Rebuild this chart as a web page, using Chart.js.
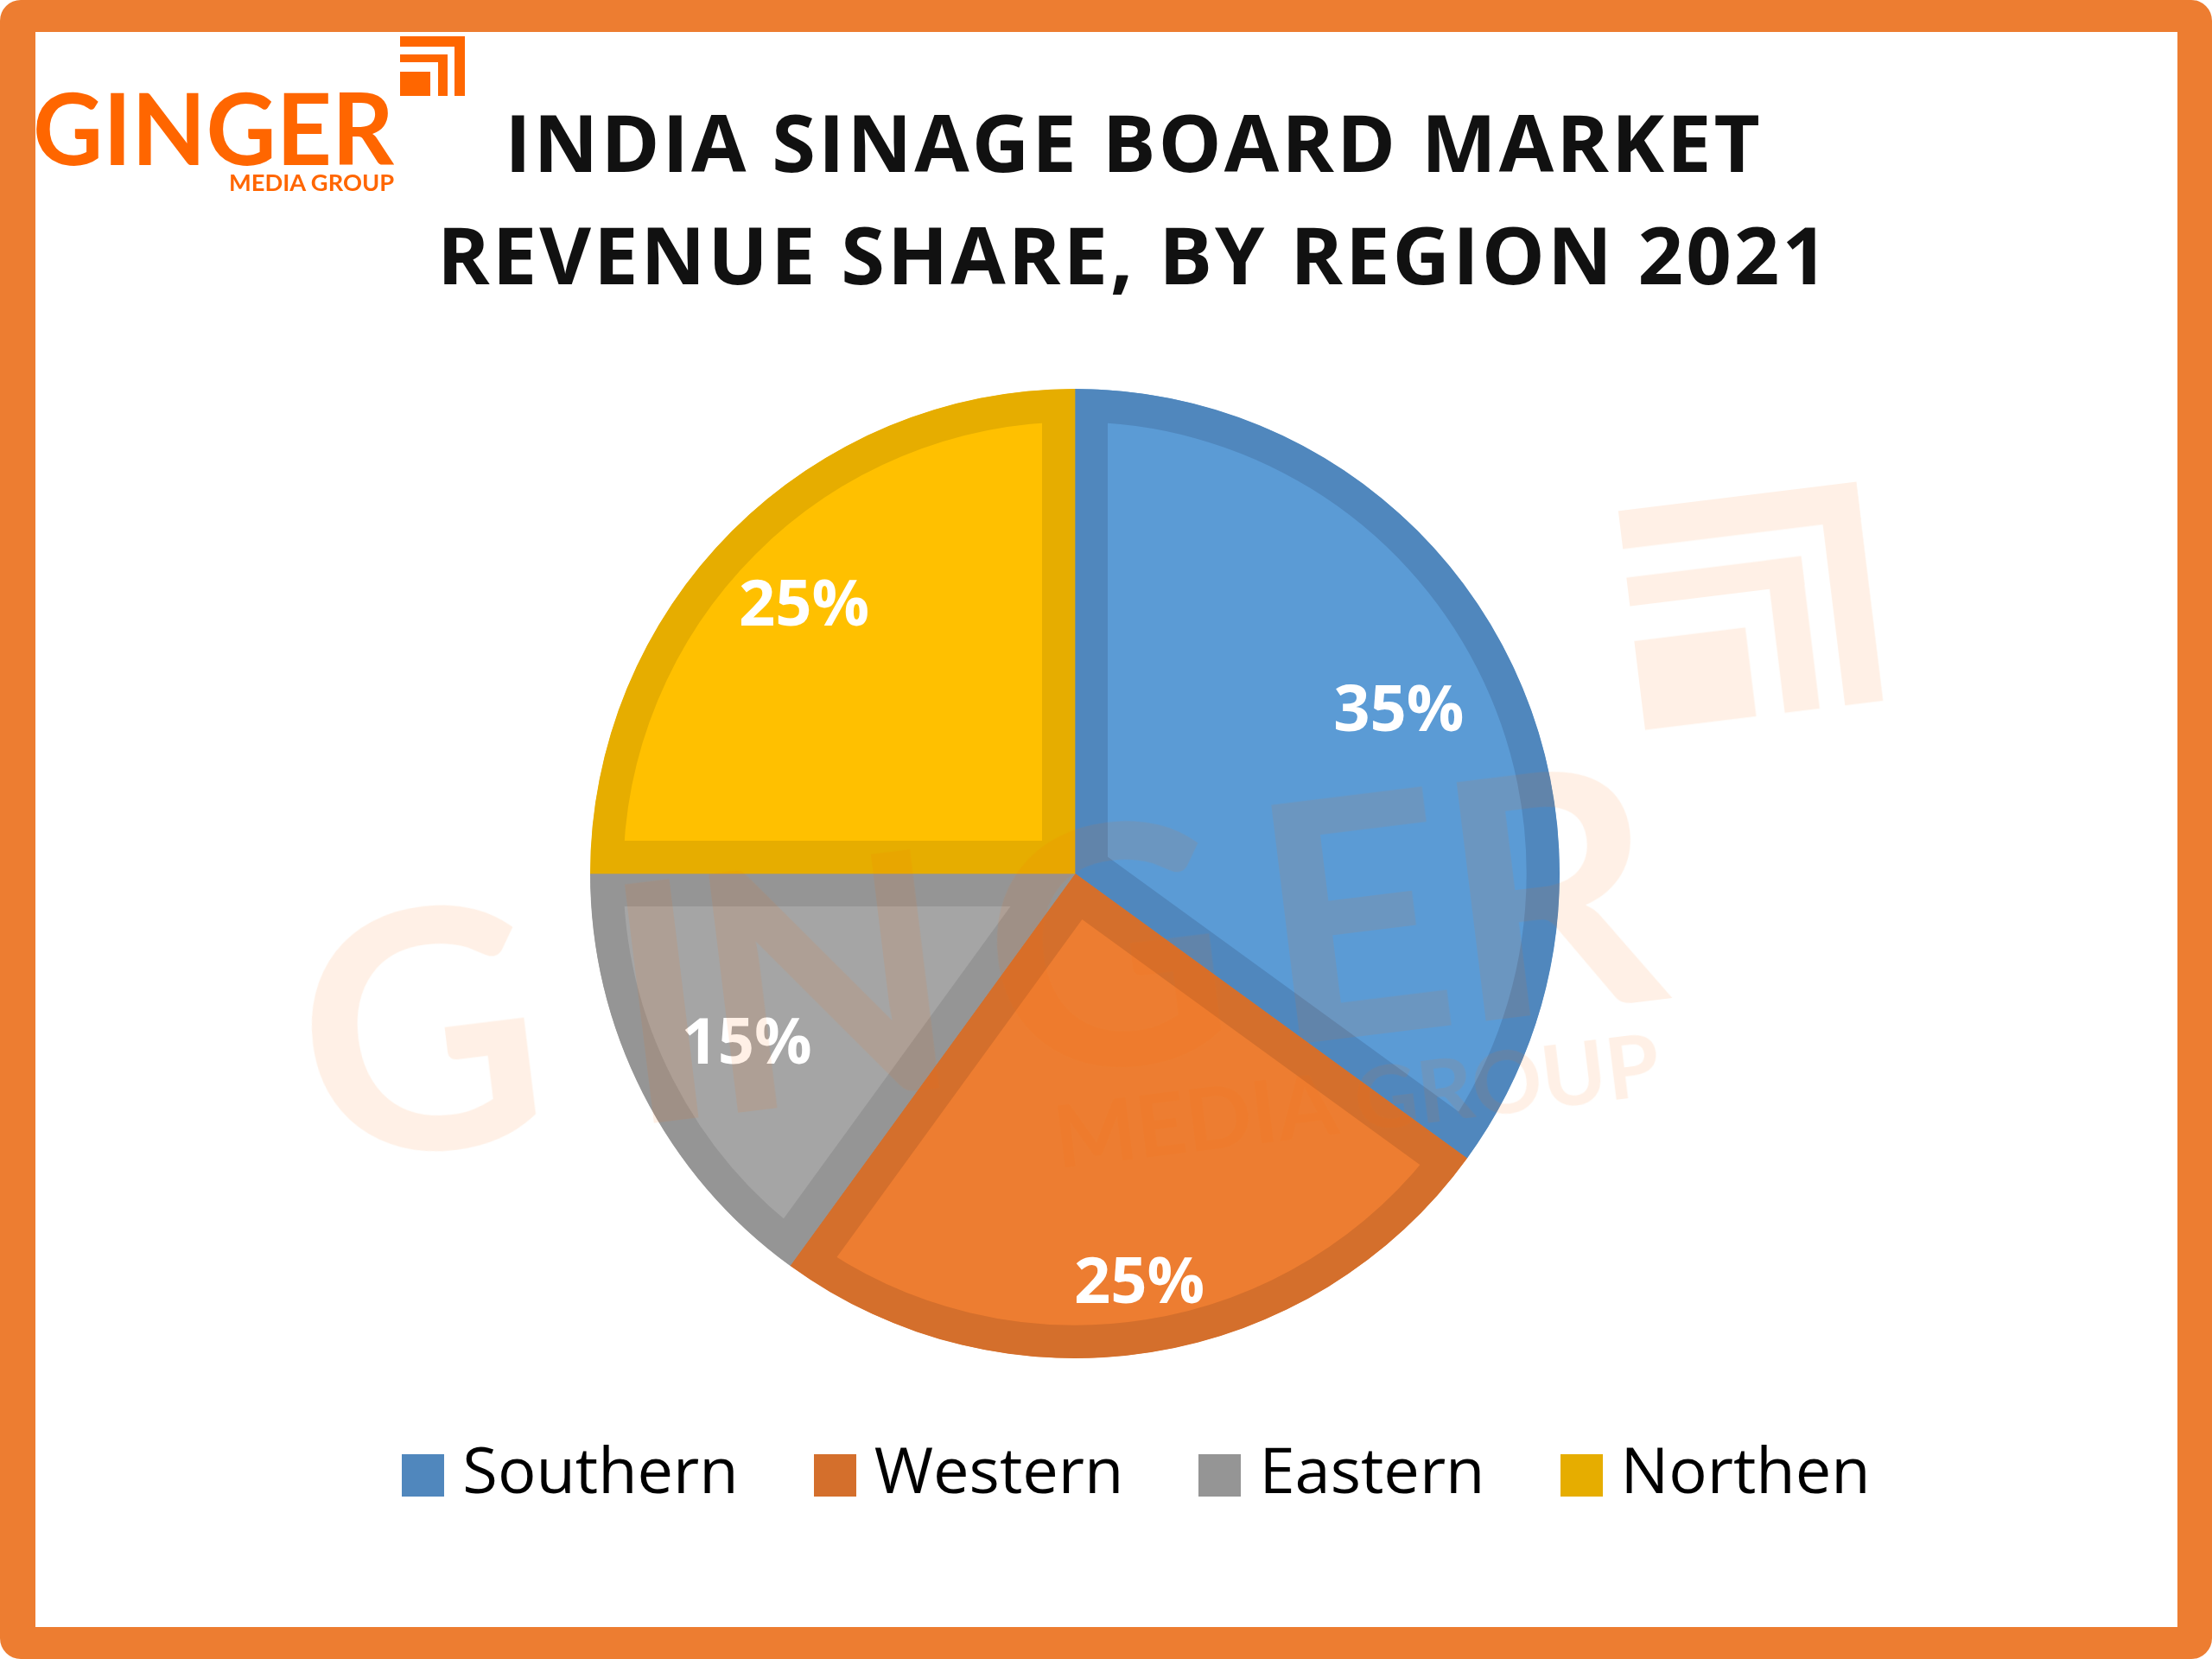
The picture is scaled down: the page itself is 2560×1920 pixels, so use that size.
<!DOCTYPE html>
<html>
<head>
<meta charset="utf-8">
<title>India Sinage Board Market</title>
<script src="https://cdn.jsdelivr.net/npm/chart.js@4"></script>
<style>
  html, body { margin: 0; padding: 0; background: #fff; }
  #page { position: relative; width: 2560px; height: 1920px; overflow: hidden; }
  #chart { position: absolute; left: 0; top: 0; }
  #frame {
    position: absolute; left: 0; top: 0; width: 2560px; height: 1920px; box-sizing: border-box;
    border: solid #ED7D31; border-width: 37px 40px 37px 41px; border-radius: 24px; pointer-events: none;
  }
  #overlay { position: absolute; left: 0; top: 0; pointer-events: none; }
  .logo text { font-family: Lato, sans-serif; font-weight: 700; fill: #FF6600; }
  .mark rect { fill: #FF6600; }
</style>
</head>
<body>
<div id="page">
  <canvas id="chart" width="2560" height="1920"></canvas>
  <svg id="overlay" width="2560" height="1920" viewBox="0 0 2560 1920">
    <defs>
      <g id="squares" class="mark">
        <rect x="0" y="0" width="75" height="12"/>
        <rect x="63" y="0" width="12" height="69"/>
        <rect x="0" y="21" width="55" height="9"/>
        <rect x="44" y="21" width="11" height="48"/>
        <rect x="0" y="41" width="35" height="28"/>
      </g>
    </defs>
    <!-- watermark -->
    <g class="logo" opacity="0.1" transform="rotate(-7 1140 900)">
      <text x="316 680 778 1115 1434 1650" y="1250" font-size="385">GINGER</text>
      <text x="1169" y="1359" font-size="100" textLength="705" lengthAdjust="spacingAndGlyphs">MEDIA GROUP</text>
      <use href="#squares" transform="translate(1905 683) scale(3.7)"/>
    </g>
    <!-- corner logo -->
    <g class="logo">
      <text x="38" y="191" font-size="114" textLength="418" lengthAdjust="spacingAndGlyphs">GINGER</text>
      <text x="265" y="221" font-size="26" textLength="191" lengthAdjust="spacingAndGlyphs">MEDIA GROUP</text>
      <use href="#squares" transform="translate(463 42)"/>
    </g>
  </svg>
  <div id="frame"></div>
</div>
<script>
// ── Data ───────────────────────────────────────────
const regions = ['Southern', 'Western', 'Eastern', 'Northen'];
const shares  = [35, 25, 15, 25];
const titleLines = ['INDIA SINAGE BOARD MARKET', 'REVENUE SHARE, BY REGION 2021'];

// ── Styles ─────────────────────────────────────────
const fillColors   = ['#5B9BD5', '#ED7D31', '#A5A5A5', '#FFC000'];
const borderColors = ['#5087BD', '#D46F2C', '#959595', '#E6AD00'];
const labelRadii   = [0.75, 0.85, 0.76, 0.79];

// pie sits left of the title/legend centre, so place its box by hand
const pieBox = { left: 683, right: 1805, top: 450, bottom: 1572 };
const placePie = {
  id: 'placePie',
  afterLayout(chart) {
    chart.chartArea = {
      ...pieBox,
      width: pieBox.right - pieBox.left,
      height: pieBox.bottom - pieBox.top,
    };
    chart.legend.left += 11;
    chart.legend.right += 11;
  },
  // only the title is letter-spaced in the reference
  beforeDraw(chart) {
    const title = chart.titleBlock;
    if (title.spaced) return;
    const drawTitle = title.draw.bind(title);
    title.draw = () => {
      chart.ctx.letterSpacing = '3px';
      drawTitle();
      chart.ctx.letterSpacing = '0px';
    };
    title.spaced = true;
  },
};

// ── Percent labels on the slices ───────────────────
const sliceLabels = {
  id: 'sliceLabels',
  afterDatasetsDraw(chart) {
    const ctx = chart.ctx;
    ctx.save();
    ctx.fillStyle = '#fff';
    ctx.font = 'bold 74px "Open Sans"';
    ctx.textAlign = 'center';
    ctx.textBaseline = 'middle';
    chart.getDatasetMeta(0).data.forEach((arc, i) => {
      const mid = (arc.startAngle + arc.endAngle) / 2;
      const r = arc.outerRadius * labelRadii[i];
      ctx.fillText(shares[i] + '%', arc.x + Math.cos(mid) * r, arc.y + Math.sin(mid) * r + 5);
    });
    ctx.restore();
  }
};

// legend swatch as an image so it can sit closer to its text than Chart.js allows
function swatch(color) {
  const c = document.createElement('canvas');
  c.width = 49;
  c.height = 49;
  const g = c.getContext('2d');
  g.fillStyle = color;
  g.fillRect(0, 0, 49, 49);
  return c;
}

new Chart(document.getElementById('chart'), {
  type: 'pie',
  data: {
    labels: regions,
    datasets: [{
      data: shares,
      backgroundColor: fillColors,
      borderColor: borderColors,
      borderWidth: 38,
      borderAlign: 'inner',
    }]
  },
  plugins: [placePie, sliceLabels],
  options: {
    responsive: false,
    devicePixelRatio: 1,
    animation: false,
    layout: { padding: { left: 64, top: 108, bottom: 166 } },
    plugins: {
      tooltip: { enabled: false },
      title: {
        display: true,
        text: titleLines,
        color: '#111',
        font: { family: '"Open Sans"', size: 92, weight: 'bold', lineHeight: 1.41 },
        padding: 0,
      },
      legend: {
        position: 'bottom',
        labels: {
          color: '#333',
          font: { family: '"Open Sans"', size: 74 },
          usePointStyle: true,
          pointStyleWidth: 17,
          boxHeight: 49,
          padding: 103,
          generateLabels: () => regions.map((name, i) => ({
            text: name,
            pointStyle: swatch(borderColors[i]),
            fillStyle: borderColors[i],
            strokeStyle: borderColors[i],
            lineWidth: 0,
            index: i,
          })),
        }
      }
    }
  }
});
</script>
</body>
</html>
